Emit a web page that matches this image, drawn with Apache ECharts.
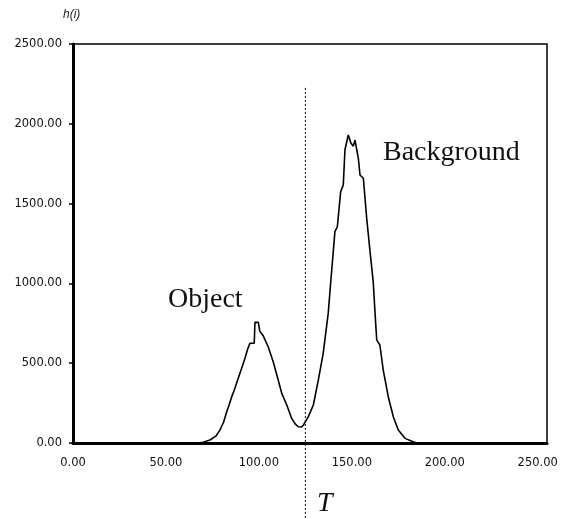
<!DOCTYPE html>
<html><head><meta charset="utf-8">
<script src="https://cdn.jsdelivr.net/npm/echarts@6/dist/echarts.min.js"></script>
<style>html,body{margin:0;padding:0;background:#fff}#c{width:566px;height:519px}</style>
</head><body><div id="c"></div>
<script>
// gray level i
const grayLevels = [0,60,67,70,73.7,77,79,81,82.7,84,85.4,87,88.9,90.5,92.5,94,95.2,97.5,97.9,99.7,100.5,102.4,105,107.7,110.4,112.3,115,117.6,119.5,121.2,123,124,126.6,129.3,132,134.6,137.3,138.7,140.9,142.2,144,145.4,146.3,147.5,148.1,149.5,150.8,151.7,153.5,154.4,156.2,158,159.8,161.5,162.5,163.4,165.1,166.9,169.6,172.3,175,178.6,183,185,255];
// histogram h(i)
const counts = [0,0,0,5,19,45,81,130,196,240,290,340,405,460,530,590,625,626,756,756,700,670,603,509,395,311,238,155,120,102,100,113,165,238,395,562,812,1015,1324,1355,1575,1617,1836,1900,1930,1880,1860,1898,1784,1679,1659,1408,1199,1011,812,645,614,457,290,165,81,29,8,0,0];
const threshold = 125;
const thresholdSpan = [2225, -476];
const xTickStep = 50, yTickStep = 500;

const chart = echarts.init(document.getElementById('c'));
const fmt = v => v.toFixed(2);
chart.setOption({
  animation: false,
  grid: {left: 73, top: 44, right: 19, bottom: 76, show: true, borderColor: '#000', borderWidth: 1.5},
  xAxis: {type: 'value', min: 0, max: 255, interval: xTickStep,
    axisLine: {lineStyle: {color: '#000', width: 3}},
    axisTick: {show: false}, splitLine: {show: false},
    axisLabel: {formatter: v => v > 250 ? '' : fmt(v), margin: 14, color: '#111', fontFamily: 'DejaVu Sans', fontSize: 11.5}},
  yAxis: {type: 'value', min: 0, max: 2500, interval: yTickStep,
    axisLine: {show: true, lineStyle: {color: '#000', width: 3}},
    axisTick: {show: true, length: 4, lineStyle: {color: '#000', width: 1.5}},
    splitLine: {show: false},
    axisLabel: {formatter: fmt, margin: 11, color: '#111', fontFamily: 'DejaVu Sans', fontSize: 11.5}},
  series: [{type: 'line', data: grayLevels.map((x, i) => [x, counts[i]]),
    showSymbol: false, lineStyle: {color: '#000', width: 1.6}, clip: true}]
});
const p1 = chart.convertToPixel({gridIndex: 0}, [threshold, thresholdSpan[0]]);
const p2 = chart.convertToPixel({gridIndex: 0}, [threshold, thresholdSpan[1]]);
const serif = '"Liberation Serif", "DejaVu Serif", serif';
chart.setOption({graphic: [
  {type: 'line', shape: {x1: p1[0], y1: p1[1], x2: p2[0], y2: p2[1]}, style: {stroke: '#000', lineWidth: 1, lineDash: [2, 2]}},
  {type: 'text', left: 168, top: 286, style: {text: 'Object', font: '28px ' + serif, fill: '#111'}},
  {type: 'text', left: 383, top: 139, style: {text: 'Background', font: '28px ' + serif, fill: '#111'}},
  {type: 'text', left: 317, top: 490, style: {text: 'T', font: 'italic 28px ' + serif, fill: '#111'}},
  {type: 'text', left: 63, top: 9, style: {text: 'h(i)', font: 'italic 12px "Liberation Sans", Arial, sans-serif', fill: '#222'}}
]});
</script></body></html>
